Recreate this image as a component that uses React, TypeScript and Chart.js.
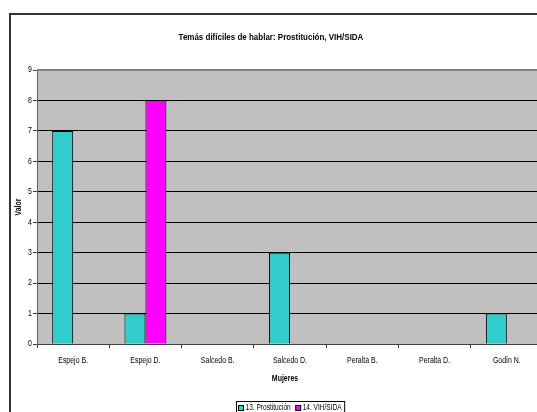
import React, { useEffect, useRef } from 'react';
import { Chart, registerables } from 'chart.js';

Chart.register(...registerables);

const categories = ['Espejo B.', 'Espejo D.', 'Salcedo B.', 'Salcedo D.', 'Peralta B.', 'Peralta D.', 'Godín N.'];
const prostitucion = [7, 1, 0, 3, 0, 0, 1];
const vihSida = [0, 8, 0, 0, 0, 0, 0];
const seriesNames = ['13. Prostitución', '14. VIH/SIDA'];
const seriesColors = ['#33CCCC', '#FF00FF'];
const titleText = 'Temás difíciles de hablar: Prostitución, VIH/SIDA';
const xTitle = 'Mujeres';
const yTitle = 'Valor';
const yMin = 0;
const yMax = 9;
const yStep = 1;

const FONT = '"Liberation Sans", Arial, Helvetica, sans-serif';
const SX = 0.84; // horizontal condensing of text
const W = 560;
const H = 412;

function condensedText(ctx: any, text: string, x: number, y: number, align: string, sx: number = SX) {
  ctx.save();
  ctx.translate(x, y);
  ctx.scale(sx, 1);
  ctx.textAlign = align;
  ctx.fillText(text, 0, 0);
  ctx.restore();
}

const decorPlugin = {
  id: 'decor',
  beforeDraw(chart: any) {
    const { ctx, chartArea: a } = chart;
    ctx.save();
    ctx.fillStyle = '#ffffff';
    ctx.fillRect(0, 0, W, H);
    ctx.fillStyle = '#C0C0C0';
    ctx.fillRect(a.left, a.top, a.right - a.left, a.bottom - a.top);
    ctx.restore();
  },
  afterDraw(chart: any) {
    const { ctx, chartArea: a } = chart;
    const xs = chart.scales.x;
    const ys = chart.scales.y;
    ctx.save();
    // outer frame
    ctx.strokeStyle = '#333333';
    ctx.lineWidth = 2;
    ctx.strokeRect(10, 14, 700, 600);
    // plot top border
    ctx.strokeStyle = '#808080';
    ctx.lineWidth = 2;
    ctx.beginPath();
    ctx.moveTo(a.left, a.top);
    ctx.lineTo(a.right, a.top);
    ctx.stroke();
    ctx.fillStyle = '#000';
    ctx.textBaseline = 'middle';
    // tick labels
    ctx.font = `8.3px ${FONT}`;
    xs.ticks.forEach((t: any, i: number) => {
      condensedText(ctx, String(xs.getLabelForValue(t.value)), xs.getPixelForTick(i), 361, 'center');
    });
    ys.ticks.forEach((t: any, i: number) => {
      condensedText(ctx, String(t.value), 32, ys.getPixelForTick(i), 'right');
    });
    // title
    ctx.font = `bold 9.5px ${FONT}`;
    condensedText(ctx, titleText, 271, 37, 'center');
    // x title
    ctx.font = `bold 8.3px ${FONT}`;
    condensedText(ctx, xTitle, 285, 379, 'center');
    // y title
    ctx.save();
    ctx.translate(19, 207);
    ctx.rotate(-Math.PI / 2);
    condensedText(ctx, yTitle, 0, 0, 'center');
    ctx.restore();
    // legend
    const LSX = 0.79;
    ctx.font = `8.3px ${FONT}`;
    const w0 = ctx.measureText(seriesNames[0]).width * LSX;
    const w1 = ctx.measureText(seriesNames[1]).width * LSX;
    const sq = 5;
    const boxW = 2 + sq + 2 + w0 + 5 + sq + 2 + w1 + 3;
    const boxL = Math.round(290.5 - boxW / 2) + 0.5;
    const boxT = 401.5;
    const boxH = 14;
    ctx.strokeStyle = '#000';
    ctx.lineWidth = 1;
    ctx.strokeRect(boxL, boxT, boxW, boxH);
    const cy = boxT + 6.5;
    let x = boxL + 2;
    for (let i = 0; i < 2; i++) {
      ctx.fillStyle = seriesColors[i];
      ctx.fillRect(x, cy - sq / 2, sq, sq);
      ctx.strokeStyle = '#000';
      ctx.strokeRect(x, cy - sq / 2, sq, sq);
      x += sq + 2;
      ctx.fillStyle = '#000';
      condensedText(ctx, seriesNames[i], x, cy, 'left', LSX);
      x += (i === 0 ? w0 : w1) + 5;
    }
    ctx.restore();
  },
};

export default function App() {
  const ref = useRef<HTMLCanvasElement>(null);
  useEffect(() => {
    if (!ref.current) return;
    const chart = new Chart(ref.current, {
      type: 'bar',
      data: {
        labels: categories,
        datasets: [prostitucion, vihSida].map((d, i) => ({
          label: seriesNames[i],
          data: d,
          backgroundColor: seriesColors[i],
          borderColor: '#000',
          borderWidth: (c: any) => (c.raw === 0 ? 0 : 1),
          borderSkipped: 'bottom',
          categoryPercentage: 0.58,
          barPercentage: 1,
        })),
      },
      options: {
        responsive: false,
        animation: false,
        devicePixelRatio: 1,
        layout: { padding: { top: 70, right: 17, left: 0, bottom: 0 } },
        plugins: { legend: { display: false }, title: { display: false }, tooltip: { enabled: false } },
        scales: {
          x: {
            afterFit: (s: any) => { s.height = 68; },
            grid: { display: true, drawOnChartArea: false, drawTicks: true, tickLength: 4, color: '#404040', offset: true },
            border: { display: true, color: '#404040', width: 1 },
            ticks: { display: false, autoSkip: false, maxRotation: 0 },
          },
          y: {
            min: yMin,
            max: yMax,
            afterFit: (s: any) => { s.width = 37; },
            grid: {
              color: (c: any) => (c.tick && c.tick.value === yMax ? 'rgba(0,0,0,0)' : '#000'),
              tickColor: '#404040',
              tickLength: 4,
              lineWidth: 1,
            },
            border: { display: true, color: '#606060', width: 1 },
            ticks: { display: false, stepSize: yStep },
          },
        },
      },
      plugins: [decorPlugin],
    } as any);
    return () => chart.destroy();
  }, []);
  return (
    <div style={{ position: 'fixed', left: 0, top: 0, width: 537, height: 412, overflow: 'hidden', background: '#fff' }}>
      <canvas ref={ref} width={W} height={H} style={{ display: 'block', width: W, height: H }} />
    </div>
  );
}
